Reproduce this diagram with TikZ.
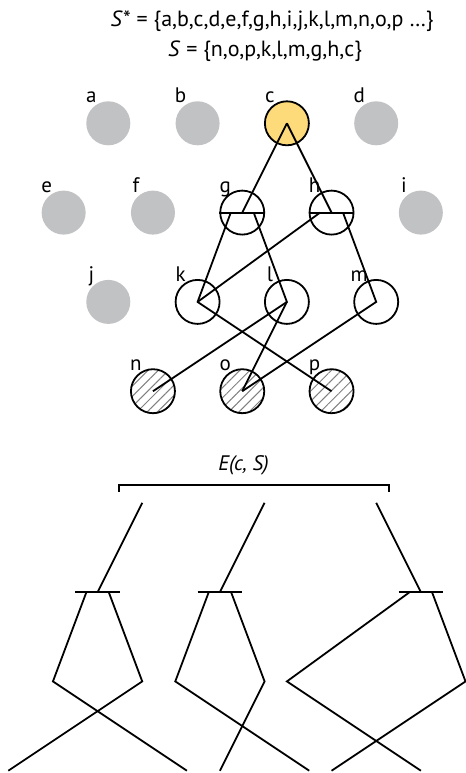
\documentclass[tikz,border=0pt]{standalone}
\usepackage{fontspec}
\setmainfont{PT Sans}
\usetikzlibrary{calc,patterns.meta}

\definecolor{unusedgray}{HTML}{C1C2C4}
\definecolor{rootyellow}{HTML}{FDDB7A}

\tikzset{
  vertex/.style={circle, minimum size=22pt, inner sep=0pt, line width=0.9pt},
  unused/.style={vertex, fill=unusedgray},
  root/.style={vertex, draw, fill=rootyellow},
  member/.style={vertex, draw, fill=white},
  leaf/.style={vertex, draw, pattern={Lines[angle=45,distance=3.6pt,line width=0.5pt]}, pattern color=gray},
  link/.style={line width=0.9pt},
  lbl/.style={anchor=base, inner sep=0pt, font=\fontsize{10.5}{12}\selectfont},
}

\begin{document}
\begin{tikzpicture}[x=22.325pt, y=22.325pt]
  \useasboundingbox (-2.4255,-14.551) rectangle (8.0112,2.7615);

  % the two sets
  \node[lbl, font=\fontsize{11}{13}\selectfont] (allset) at (3.67,2.17) {\textit{S}* = \{a,b,c,d,e,f,g,h,i,j,k,l,m,n,o,p …\}};
  \node[lbl, font=\fontsize{11}{13}\selectfont] (subset) at (3.51,1.49) {\textit{S} = \{n,o,p,k,l,m,g,h,c\}};

  % lattice of elements
  \foreach \n/\x/\y/\s in {a/0/0/unused, b/2/0/unused, c/4/0/root, d/6/0/unused,
      e/-1/-2/unused, f/1/-2/unused, g/3/-2/member, h/5/-2/member, i/7/-2/unused,
      j/0/-4/unused, k/2/-4/member, l/4/-4/member, m/6/-4/member,
      n/1/-6/leaf, o/3/-6/leaf, p/5/-6/leaf}{
    \node[\s] (\n) at (\x,\y) {};
    \node[lbl] (\n-lab) at ($(\n)+(-0.38,0.46)$) {\n};
  }

  % edges between elements of S
  \draw[link] (c.center) -- (g.center);
  \draw[link] (c.center) -- (h.center);
  \draw[link] (g.west) -- (g.east);
  \draw[link] (h.west) -- (h.east);
  \draw[link] ($(g.west)!0.25!(g.east)$) -- (k.center) -- (p.center);
  \draw[link] ($(h.west)!0.25!(h.east)$) -- (k.center);
  \draw[link] ($(g.west)!0.75!(g.east)$) -- (l.center) -- (n.center);
  \draw[link] (l.center) -- (o.center);
  \draw[link] ($(h.west)!0.75!(h.east)$) -- (m.center) -- (o.center);

  % E(c,S)
  \node[lbl, font=\fontsize{10.5}{12}\selectfont\itshape] (span) at (3.03,-7.78) {E(c, S)};
  \coordinate (span-l) at (0.246,-8.10);
  \coordinate (span-r) at (6.287,-8.10);
  \draw[link] ($(span-l)+(0,-0.15)$) -- (span-l) -- (span-r) -- ($(span-r)+(0,-0.15)$);

  % the three explanations, shifted copies of the lattice
  \foreach \t/\dx in {A/-3.24, B/-0.5, C/2}
    \foreach \n/\x/\y in {c/4/0, g/3/-2, h/5/-2, k/2/-4, l/4/-4, m/6/-4, n/1/-6, o/3/-6, p/5/-6}
      \coordinate (\t\n) at (\x+\dx,\y-8.5);

  \draw[link] (Ac) -- (Ag);
  \draw[link] ($(Ag)+(-0.5,0)$) -- ($(Ag)+(0.5,0)$);
  \draw[link] ($(Ag)+(-0.25,0)$) -- (Ak) -- (Ap);
  \draw[link] ($(Ag)+(0.25,0)$) -- (Al) -- (An);

  \draw[link] (Bc) -- (Bg);
  \draw[link] ($(Bg)+(-0.5,0)$) -- ($(Bg)+(0.5,0)$);
  \draw[link] ($(Bg)+(-0.25,0)$) -- (Bk) -- (Bp);
  \draw[link] ($(Bg)+(0.25,0)$) -- (Bl) -- (Bo);

  \draw[link] (Cc) -- (Ch);
  \draw[link] ($(Ch)+(-0.5,0)$) -- ($(Ch)+(0.5,0)$);
  \draw[link] ($(Ch)+(-0.25,0)$) -- (Ck) -- (Cp);
  \draw[link] ($(Ch)+(0.25,0)$) -- (Cm) -- (Co);
\end{tikzpicture}
\end{document}
